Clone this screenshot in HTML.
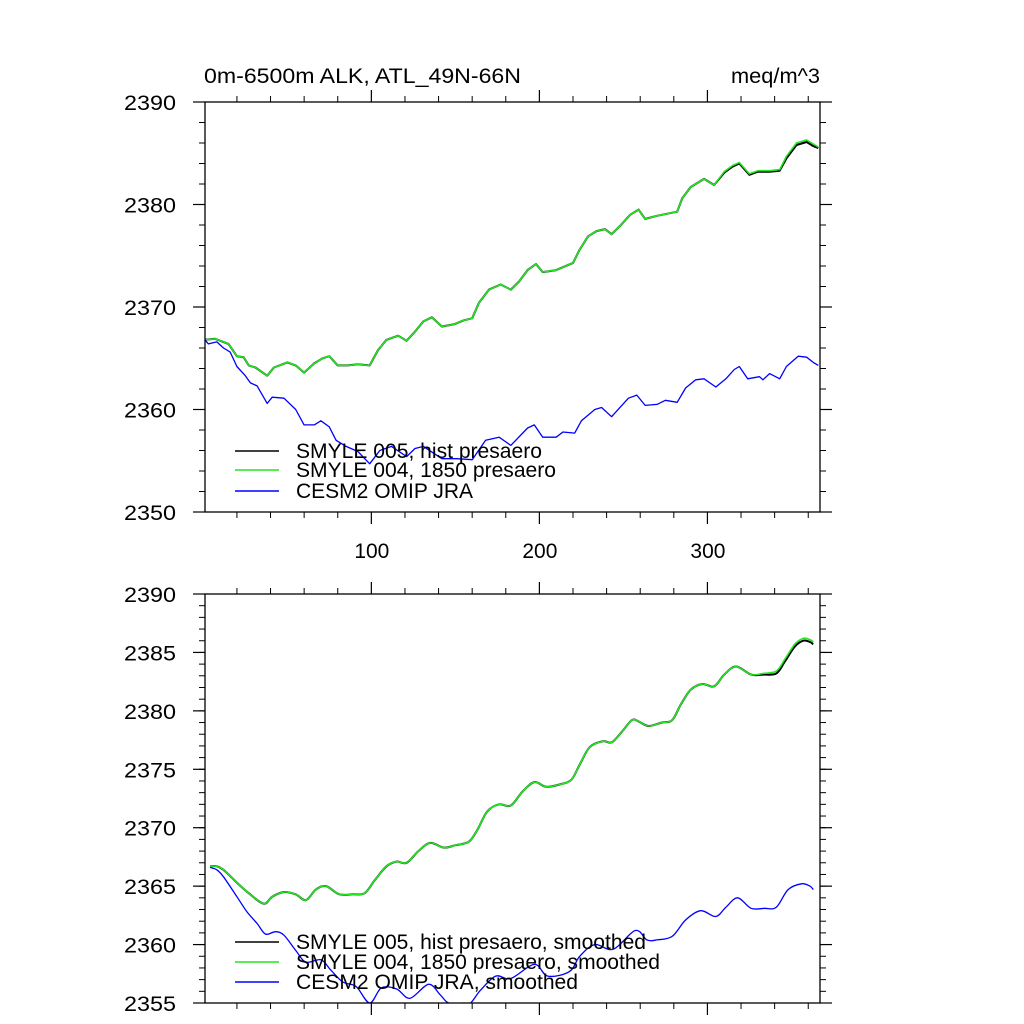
<!DOCTYPE html>
<html><head><meta charset="utf-8"><style>
body{margin:0;background:#fff}
svg{display:block;font-family:"Liberation Sans",sans-serif}
</style></head><body>
<svg id="c" width="1024" height="1024" viewBox="0 0 1024 1024">
<rect width="1024" height="1024" fill="#fff"/>
<text x="204" y="83" font-size="21" textLength="317" lengthAdjust="spacingAndGlyphs">0m-6500m ALK, ATL_49N-66N</text>
<text x="731" y="83" font-size="21" textLength="89" lengthAdjust="spacingAndGlyphs">meq/m^3</text>
</svg>
<script>
const topDays=[1,7,15,20,24,27,31,38,42,50,55,60,66,71,75,80,86,92,99,104,109,116,121,126,131,136,142,149,155,160,164,170,177,183,188,193,198,202,210,220,224,229,234,239,243,248,254,259,263,270,282,285,290,298,304,310,315,319,325,330,337,343,347,353,359,363,366];
const topGreen=[2366.8,2366.9,2366.4,2365.2,2365.1,2364.3,2364.1,2363.3,2364.1,2364.6,2364.3,2363.6,2364.5,2365.0,2365.2,2364.3,2364.3,2364.4,2364.3,2365.8,2366.8,2367.2,2366.7,2367.6,2368.6,2369.0,2368.1,2368.3,2368.7,2368.9,2370.4,2371.7,2372.2,2371.7,2372.5,2373.6,2374.2,2373.4,2373.6,2374.3,2375.6,2376.9,2377.4,2377.6,2377.1,2377.9,2379.0,2379.5,2378.6,2378.9,2379.3,2380.6,2381.7,2382.5,2381.9,2383.2,2383.8,2384.1,2383.0,2383.3,2383.3,2383.4,2384.7,2386.0,2386.3,2385.9,2385.6];
const topBlack=[2366.8,2366.9,2366.4,2365.2,2365.1,2364.3,2364.1,2363.3,2364.1,2364.6,2364.3,2363.6,2364.5,2365.0,2365.2,2364.3,2364.3,2364.4,2364.3,2365.8,2366.8,2367.2,2366.7,2367.6,2368.6,2369.0,2368.1,2368.3,2368.7,2368.9,2370.4,2371.7,2372.2,2371.7,2372.5,2373.6,2374.2,2373.4,2373.6,2374.3,2375.6,2376.9,2377.4,2377.6,2377.1,2377.9,2379.0,2379.5,2378.6,2378.9,2379.3,2380.6,2381.7,2382.5,2381.9,2383.1,2383.7,2384.0,2382.9,2383.2,2383.2,2383.3,2384.5,2385.8,2386.1,2385.7,2385.5];
const topBlueDays=[1,3,8,12,16,20,25,28,32,38,41,48,55,60,66,70,75,79,85,92,99,105,112,121,126,131,142,151,160,168,176,183,193,197,202,210,214,221,225,233,237,243,253,258,263,270,275,282,287,293,298,305,311,316,319,324,331,333,337,343,347,354,359,363,366];
const topBlue=[2366.8,2366.4,2366.6,2366.0,2365.6,2364.2,2363.3,2362.6,2362.3,2360.6,2361.2,2361.1,2360.0,2358.5,2358.5,2358.9,2358.3,2357.0,2356.4,2355.9,2354.7,2356.0,2356.4,2355.4,2356.2,2356.4,2355.2,2355.2,2355.1,2357.0,2357.3,2356.5,2358.2,2358.5,2357.3,2357.3,2357.8,2357.7,2358.9,2360.0,2360.2,2359.3,2361.1,2361.4,2360.4,2360.5,2360.9,2360.7,2362.1,2362.9,2363.0,2362.2,2363.0,2363.9,2364.2,2363.0,2363.2,2362.9,2363.5,2363.0,2364.2,2365.2,2365.1,2364.6,2364.3];
const botDays=[4,8,12,20,27,36,41,48,55,61,67,73,81,89,96,102,109,115,121,128,135,143,150,158,163,169,176,183,190,197,204,212,219,224,230,238,243,249,255,259,265,273,279,284,290,297,304,310,317,326,333,341,346,352,357,361,363];
const botGreen=[2366.7,2366.7,2366.4,2365.3,2364.4,2363.5,2364.1,2364.5,2364.3,2363.8,2364.7,2365.0,2364.3,2364.3,2364.4,2365.5,2366.7,2367.1,2367.0,2368.0,2368.7,2368.3,2368.5,2368.8,2369.8,2371.4,2372.0,2371.9,2373.1,2373.9,2373.5,2373.7,2374.1,2375.4,2376.9,2377.4,2377.3,2378.2,2379.2,2379.1,2378.7,2379.0,2379.2,2380.5,2381.8,2382.3,2382.1,2383.1,2383.8,2383.1,2383.2,2383.4,2384.4,2385.7,2386.2,2386.1,2385.9];
const botBlack=[2366.7,2366.7,2366.4,2365.3,2364.4,2363.5,2364.1,2364.5,2364.3,2363.8,2364.7,2365.0,2364.3,2364.3,2364.4,2365.5,2366.7,2367.1,2367.0,2368.0,2368.7,2368.3,2368.5,2368.8,2369.8,2371.4,2372.0,2371.9,2373.1,2373.9,2373.5,2373.7,2374.1,2375.4,2376.9,2377.4,2377.3,2378.2,2379.2,2379.1,2378.7,2379.0,2379.2,2380.5,2381.8,2382.3,2382.1,2383.1,2383.8,2383.1,2383.1,2383.2,2384.2,2385.5,2386.0,2385.9,2385.7];
const botBlueDays=[4,8,12,20,26,32,37,43,48,55,61,70,76,83,91,99,106,115,123,134,141,146,155,159,165,174,183,197,205,218,224,233,244,257,264,270,279,287,296,305,311,318,326,334,341,348,356,361,363];
const botBlue=[2366.6,2366.4,2365.8,2364.1,2362.8,2361.8,2360.9,2361.1,2360.8,2359.5,2358.5,2358.7,2357.8,2356.8,2356.4,2355.0,2356.3,2356.2,2355.4,2356.6,2355.7,2355.0,2355.0,2355.0,2356.1,2357.3,2357.1,2358.3,2357.3,2357.7,2359.0,2360.0,2359.6,2361.2,2360.4,2360.4,2360.7,2362.1,2362.9,2362.4,2363.2,2364.0,2363.1,2363.1,2363.2,2364.7,2365.2,2365.0,2364.7];
const xTicks=[100,200,300];
const topYTicks=[2350,2360,2370,2380,2390];
const botYTicks=[2355,2360,2365,2370,2375,2380,2385,2390];
const topLegend=["SMYLE 005, hist presaero","SMYLE 004, 1850 presaero","CESM2 OMIP JRA"];
const botLegend=["SMYLE 005, hist presaero, smoothed","SMYLE 004, 1850 presaero, smoothed","CESM2 OMIP JRA, smoothed"];

const NS="http://www.w3.org/2000/svg";
const svg=document.getElementById('c');
function mk(t,a,p){const e=document.createElementNS(NS,t);for(const k in a)e.setAttribute(k,a[k]);(p||svg).appendChild(e);return e;}
const L=205,R=820,XMIN=1,XMAX=367;
function xs(d){return L+(d-XMIN)/(XMAX-XMIN)*(R-L);}
function smoothPath(P){let s='M'+P[0][0].toFixed(1)+','+P[0][1].toFixed(1);
  for(let i=0;i<P.length-1;i++){const p0=P[Math.max(0,i-1)],p1=P[i],p2=P[i+1],p3=P[Math.min(P.length-1,i+2)];
    const c1=[p1[0]+(p2[0]-p0[0])/6,p1[1]+(p2[1]-p0[1])/6],c2=[p2[0]-(p3[0]-p1[0])/6,p2[1]-(p3[1]-p1[1])/6];
    s+=' C'+c1.map(v=>v.toFixed(1)).join(',')+' '+c2.map(v=>v.toFixed(1)).join(',')+' '+p2[0].toFixed(1)+','+p2[1].toFixed(1);}
  return s;}

function panel(id,T,B,ymin,ymax,yTicks,minorStep,showX,series,legend,legY,legW,smooth){
  const g=mk('g',{});
  
  
  const ys=v=>B-(v-ymin)/(ymax-ymin)*(B-T);
  const cp=mk('clipPath',{id:id+'-clip'},g);mk('rect',{x:L,y:T,width:R-L,height:B-T},cp);
  for(let v=ymin;v<=ymax+1e-6;v+=minorStep){const y=ys(v);
    mk('line',{x1:L-6,x2:L,y1:y,y2:y,stroke:'#000','stroke-width':1},g);
    mk('line',{x1:R,x2:R+6,y1:y,y2:y,stroke:'#000','stroke-width':1},g);}
  yTicks.forEach(v=>{const y=ys(v);
    mk('line',{x1:L-12,x2:L,y1:y,y2:y,stroke:'#000','stroke-width':1.2},g);
    mk('line',{x1:R,x2:R+12,y1:y,y2:y,stroke:'#000','stroke-width':1.2},g);
    const t=mk('text',{x:124,y:y+8,'font-size':21,textLength:52,lengthAdjust:'spacingAndGlyphs'},g);t.textContent=v;
    
    });
  for(let d=20;d<=360;d+=20){if(d%100===0)continue;const x=xs(d);
    mk('line',{x1:x,x2:x,y1:T-6,y2:T,stroke:'#000','stroke-width':1},g);
    mk('line',{x1:x,x2:x,y1:B,y2:B+6,stroke:'#000','stroke-width':1},g);}
  xTicks.forEach(d=>{const x=xs(d);
    mk('line',{x1:x,x2:x,y1:T-12,y2:T,stroke:'#000','stroke-width':1.2},g);
    mk('line',{x1:x,x2:x,y1:B,y2:B+12,stroke:'#000','stroke-width':1.2},g);
    if(showX){const t=mk('text',{x:x-17,y:B+46,'font-size':21,textLength:35,lengthAdjust:'spacingAndGlyphs'},g);t.textContent=d;
      
      }});
  series.forEach(s=>{const P=s.d.map((d,i)=>[xs(d),ys(s.v[i])]);
    const p=mk('path',{d:smooth?smoothPath(P):'M'+P.map(q=>q[0].toFixed(1)+','+q[1].toFixed(1)).join(' L'),fill:'none',stroke:s.c,'stroke-width':s.w,'stroke-linejoin':'round','clip-path':'url(#'+id+'-clip)'},g);
    
    });
  mk('rect',{x:L,y:T,width:R-L,height:B-T,fill:'none',stroke:'#000','stroke-width':1.3},g);
  const cols=['#000','#22e622','#0000ff'];
  legend.forEach((txt,i)=>{const y=legY[i];
    const l=mk('line',{x1:235,x2:279,y1:y,y2:y,stroke:cols[i],'stroke-width':1.5},g);
    
    
    const t=mk('text',{x:296,y:y+7,'font-size':21,textLength:legW[i],lengthAdjust:'spacingAndGlyphs'},g);t.textContent=txt;
    
    });
}
panel('top-panel',102,512,2350,2390,topYTicks,2,true,[
 {d:topDays,v:topBlack,c:'#000',w:2,n:'series-smyle005'},
 {d:topDays,v:topGreen,c:'#22e622',w:1.6,n:'series-smyle004'},
 {d:topBlueDays,v:topBlue,c:'#0000ff',w:1.3,n:'series-cesm2-omip'}],topLegend,[451,470,491],[246,260,177],false);
panel('bottom-panel',594,1003,2355,2390,botYTicks,1,false,[
 {d:botDays,v:botBlack,c:'#000',w:2,n:'series-smyle005-smoothed'},
 {d:botDays,v:botGreen,c:'#22e622',w:1.6,n:'series-smyle004-smoothed'},
 {d:botBlueDays,v:botBlue,c:'#0000ff',w:1.3,n:'series-cesm2-omip-smoothed'}],botLegend,[942,962,982],[350,364,282],true);
</script>
</body></html>
